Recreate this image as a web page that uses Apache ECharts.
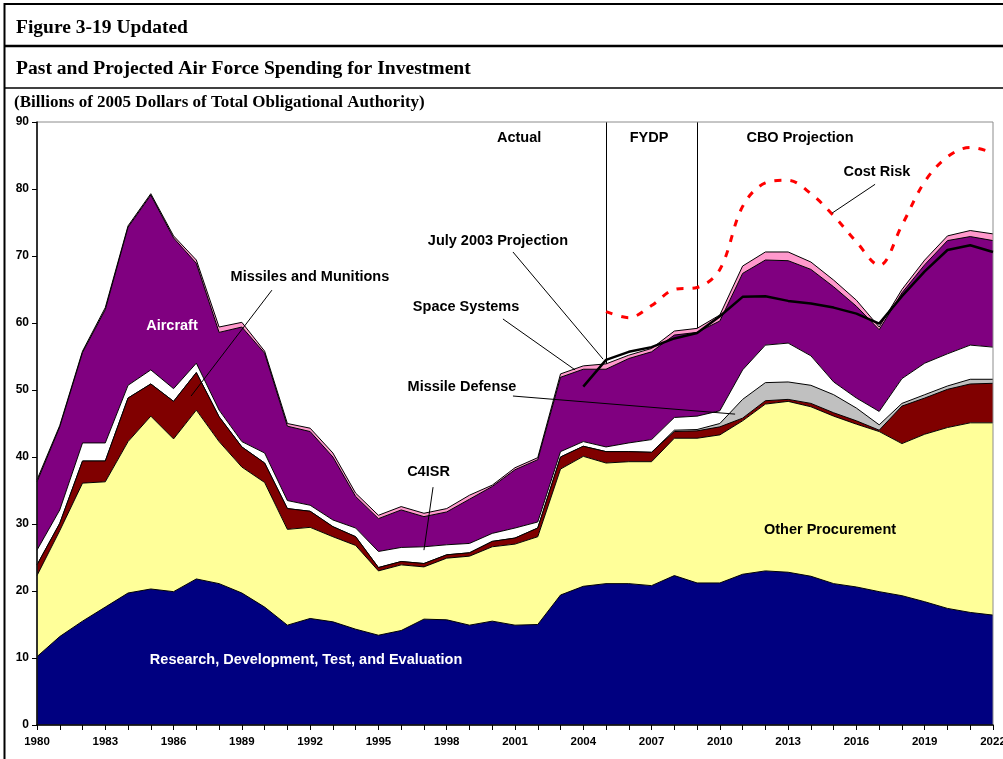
<!DOCTYPE html>
<html><head><meta charset="utf-8">
<script src="https://cdn.jsdelivr.net/npm/echarts@6/dist/echarts.min.js"></script>
<style>html,body{margin:0;padding:0;background:#fff}#c{width:1003px;height:759px}</style>
</head><body><div id="c"></div>
<script>
// ---- data (billions of 2005 dollars) ----
const years = [1980,1981,1982,1983,1984,1985,1986,1987,1988,1989,
  1990,1991,1992,1993,1994,1995,1996,1997,1998,1999,
  2000,2001,2002,2003,2004,2005,2006,2007,2008,2009,
  2010,2011,2012,2013,2014,2015,2016,2017,2018,2019,
  2020,2021,2022];
const rdte = [10.2,13.2,15.5,17.6,19.7,20.3,19.9,21.8,21.1,19.7,
  17.6,14.9,15.9,15.4,14.3,13.4,14.1,15.8,15.7,14.9,
  15.5,14.9,15.0,19.4,20.7,21.1,21.1,20.8,22.3,21.2,
  21.2,22.5,23.0,22.8,22.2,21.1,20.6,19.9,19.3,18.4,
  17.4,16.8,16.4];
const otherProcurement = [12.1,15.8,20.6,18.7,22.6,25.8,22.8,25.2,21.2,18.8,
  18.6,14.3,13.6,12.7,12.5,9.6,9.8,7.8,9.2,10.3,
  11.1,12.1,13.1,18.8,19.4,18.0,18.2,18.5,20.5,21.6,
  22.1,22.9,24.9,25.5,25.3,25.0,24.3,23.9,22.7,25.0,
  27.0,28.3,28.7];
const missilesMunitions = [1.6,1.1,3.3,3.1,6.5,4.8,5.6,5.6,3.7,3.0,
  2.9,3.1,2.4,1.5,1.3,0.5,0.5,0.5,0.5,0.5,
  0.8,0.9,1.3,1.8,1.5,1.7,1.5,1.4,1.0,1.1,
  1.2,0.4,0.5,0.3,0.5,0.5,0.5,0.2,5.6,5.4,
  5.7,5.8,5.9];
const missileDefense = [0,0,0,0,0,0,0,0,0,0,
  0,0,0,0,0,0,0,0,0,0,
  0,0,0,0,0,0,0,0,0.2,0.2,
  0.5,2.8,2.7,2.6,2.7,2.7,1.9,0.8,0.4,0.5,
  0.5,0.7,0.6];
const c4isr = [2.2,2.0,2.7,2.7,1.9,2.1,1.9,1.4,1.0,0.8,
  1.5,1.2,0.9,1.0,1.3,2.4,2.1,2.5,1.5,1.4,
  1.2,1.5,0.9,0.8,0.7,0.7,1.3,1.9,1.9,2.0,
  1.9,4.4,5.6,5.8,4.4,1.9,1.5,2.0,3.7,4.7,
  4.8,5.1,4.8];
const aircraft = [10.2,12.4,13.5,19.9,23.6,26.1,22.5,14.9,11.6,17.1,
  14.9,11.1,11.0,9.4,4.7,4.9,5.6,4.5,4.9,6.6,
  7.0,8.7,9.3,11.1,10.8,11.6,12.6,13.1,12.3,12.5,
  13.4,14.4,12.7,12.3,12.9,14.2,13.7,12.2,12.8,14.7,
  16.9,16.2,15.9];
const spaceSystems = [0.3,0.2,0.2,0.3,0.2,0.2,0.3,0.5,0.8,0.7,
  0.3,0.4,0.5,0.6,0.5,0.5,0.5,0.5,0.5,0.6,
  0.2,0.3,0.3,0.5,0.5,0.8,0.5,0.5,0.6,0.6,
  0.9,1.1,1.2,1.3,1.1,1.0,0.9,0.4,0.5,0.7,
  0.7,0.9,1.0];
const july2003Years = [2004,2005,2006,2007,2008,2009,2010,2011,2012,2013,2014,2015,2016,2017,2018,2019,2020,2021,2022];
const july2003 = [50.5,54.5,55.7,56.4,57.7,58.5,61.0,63.9,64.0,63.3,62.9,62.3,61.4,59.9,64.0,67.7,70.9,71.6,70.6];
const costRiskYears = [2005,2006,2007,2008,2009,2010,2011,2012,2013,2014,2015,2016,2017,2018,2019,2020,2021,2022];
const costRisk = [61.7,60.8,62.6,65.0,65.3,68.0,77.4,80.9,81.3,79.3,76.0,72.1,68.6,74.6,81.1,84.8,86.2,85.4];
const xTickLabels = ['1980','1983','1986','1989','1992','1995','1998','2001','2004','2007','2010','2013','2016','2019','2022'];
const yTickLabels = ['0','10','20','30','40','50','60','70','80','90'];
const periodBoundaries = ['2005', '2009'];

// ---- styling ----
const SANS = '"Liberation Sans", Arial, sans-serif';
const SERIF = '"Liberation Serif", "Times New Roman", serif';
const layers = [
  {name:'Research, Development, Test, and Evaluation', data: rdte, color:'#000080'},
  {name:'Other Procurement', data: otherProcurement, color:'#FFFF99'},
  {name:'Missiles and Munitions', data: missilesMunitions, color:'#800000'},
  {name:'Missile Defense', data: missileDefense, color:'#C0C0C0'},
  {name:'C4ISR', data: c4isr, color:'#FFFFFF'},
  {name:'Aircraft', data: aircraft, color:'#800080'},
  {name:'Space Systems', data: spaceSystems, color:'#FF99CC'}
];
const cats = years.map(String);
const alignTo = (ys, vs) => years.map(y => { const k = ys.indexOf(y); return k >= 0 ? vs[k] : null; });

const chart = echarts.init(document.getElementById('c'), null, {renderer:'canvas'});
const series = layers.map((l, i) => ({
  type:'line', name:l.name, stack:'total',
  data: l.data,
  symbol:'none', showSymbol:false, smooth:false,
  lineStyle:{color:'#000', width:1},
  areaStyle:{color:l.color, opacity:1},
  z: 20 - i, silent:true
}));
series.push({
  type:'line', name:'Cost Risk',
  data: alignTo(costRiskYears, costRisk),
  symbol:'none', smooth:0.35, connectNulls:false,
  lineStyle:{color:'#FF0000', width:3, type:[7,9]},
  z:40, silent:true
});
series.push({
  type:'line', name:'July 2003 Projection',
  data: alignTo(july2003Years, july2003),
  symbol:'none', smooth:false,
  lineStyle:{color:'#000', width:2.5},
  z:45, silent:true,
  markLine:{
    silent:true, symbol:['none','none'], label:{show:false},
    lineStyle:{color:'#000', width:1, type:'solid'},
    data: periodBoundaries.map(x => [{coord:[x, 90]}, {coord:[x, 1.5]}])
  }
});

chart.setOption({
  animation:false,
  backgroundColor:'#fff',
  grid:{left:37, right:10, top:122, bottom:34, outerBoundsMode:'none', containLabel:false,
    show:true, borderColor:'#8c8c8c', borderWidth:1, backgroundColor:'transparent', z:25},
  xAxis:[{
    type:'category', data:cats, boundaryGap:false, z:30,
    axisLine:{show:true, onZero:false, lineStyle:{color:'#000', width:1.5}},
    axisTick:{show:true, inside:false, length:5, interval:0, lineStyle:{color:'#000'}},
    splitLine:{show:false},
    axisLabel:{
      margin:11, color:'#000', fontFamily:SANS, fontWeight:'bold', fontSize:11.5, interval:0,
      formatter: v => xTickLabels.indexOf(v) >= 0 ? v : ''
    }
  }, {
    type:'value', min:1980, max:2022, show:false
  }],
  yAxis:{
    type:'value', min:0, max:90, interval:10, z:30,
    axisLine:{show:true, lineStyle:{color:'#000', width:1.5}},
    axisTick:{show:true, inside:false, length:5, lineStyle:{color:'#000'}},
    splitLine:{show:false},
    axisLabel:{margin:8, color:'#000', fontFamily:SANS, fontWeight:'bold', fontSize:12,
      formatter: v => yTickLabels[Math.round(v/10)]}
  },
  series: series
});

// ---- annotations (positions in data units: year, billions) ----
const notes = [
  {text:'Actual', at:[2001.18, 87.6]},
  {text:'FYDP', at:[2006.89, 87.6]},
  {text:'CBO Projection', at:[2013.52, 87.6]},
  {text:'Cost Risk', at:[2016.90, 82.5]},
  {text:'July 2003 Projection', at:[2000.25, 72.2]},
  {text:'Missiles and Munitions', at:[1991.99, 66.8]},
  {text:'Space Systems', at:[1998.85, 62.4]},
  {text:'Missile Defense', at:[1998.67, 50.5]},
  {text:'C4ISR', at:[1997.20, 37.8]},
  {text:'Aircraft', at:[1985.93, 59.6], color:'#fff'},
  {text:'Other Procurement', at:[2014.84, 29.1]},
  {text:'Research, Development, Test, and Evaluation', at:[1991.82, 9.7], color:'#fff'}
];
const leaders = [
  [[1990.32, 64.9], [1986.77, 49.1]],
  [[2000.91, 70.6], [2004.87, 54.6]],
  [[2000.47, 60.6], [2003.64, 53.0]],
  [[2000.91, 49.1], [2010.67, 46.4]],
  [[1997.40, 35.5], [1997.00, 26.1]],
  [[2016.82, 80.7], [2014.93, 76.4]]
];
const P = p => chart.convertToPixel({xAxisIndex:1, yAxisIndex:0}, p);
const graphics = [];
// frame & header rules
graphics.push({type:'line', shape:{x1:4.5, y1:3, x2:4.5, y2:759}, style:{stroke:'#000', lineWidth:2}, z:50});
graphics.push({type:'line', shape:{x1:4, y1:4, x2:1003, y2:4}, style:{stroke:'#000', lineWidth:2}, z:50});
graphics.push({type:'line', shape:{x1:4, y1:46, x2:1003, y2:46}, style:{stroke:'#000', lineWidth:2.5}, z:50});
graphics.push({type:'line', shape:{x1:4, y1:88, x2:1003, y2:88}, style:{stroke:'#000', lineWidth:1.5}, z:50});
graphics.push({type:'text', x:16, y:28, style:{text:'Figure 3-19 Updated', font:'bold 19.5px ' + SERIF, fill:'#000', textAlign:'left', textVerticalAlign:'middle'}, z:50});
graphics.push({type:'text', x:16, y:69, style:{text:'Past and Projected Air Force Spending for Investment', font:'bold 19.6px ' + SERIF, fill:'#000', textAlign:'left', textVerticalAlign:'middle'}, z:50});
graphics.push({type:'text', x:14, y:103, style:{text:'(Billions of 2005 Dollars of Total Obligational Authority)', font:'bold 17px ' + SERIF, fill:'#000', textAlign:'left', textVerticalAlign:'middle'}, z:50});
leaders.forEach(([a, b]) => {
  const pa = P(a), pb = P(b);
  graphics.push({type:'line', shape:{x1:pa[0], y1:pa[1], x2:pb[0], y2:pb[1]}, style:{stroke:'#000', lineWidth:1}, z:60});
});
notes.forEach(n => {
  const p = P(n.at);
  graphics.push({type:'text', x:p[0], y:p[1], style:{text:n.text, font:'bold 14.5px ' + SANS, fill:n.color || '#000', textAlign:'center', textVerticalAlign:'middle'}, z:60});
});
chart.setOption({graphic:{elements:graphics}});
</script>
</body></html>
